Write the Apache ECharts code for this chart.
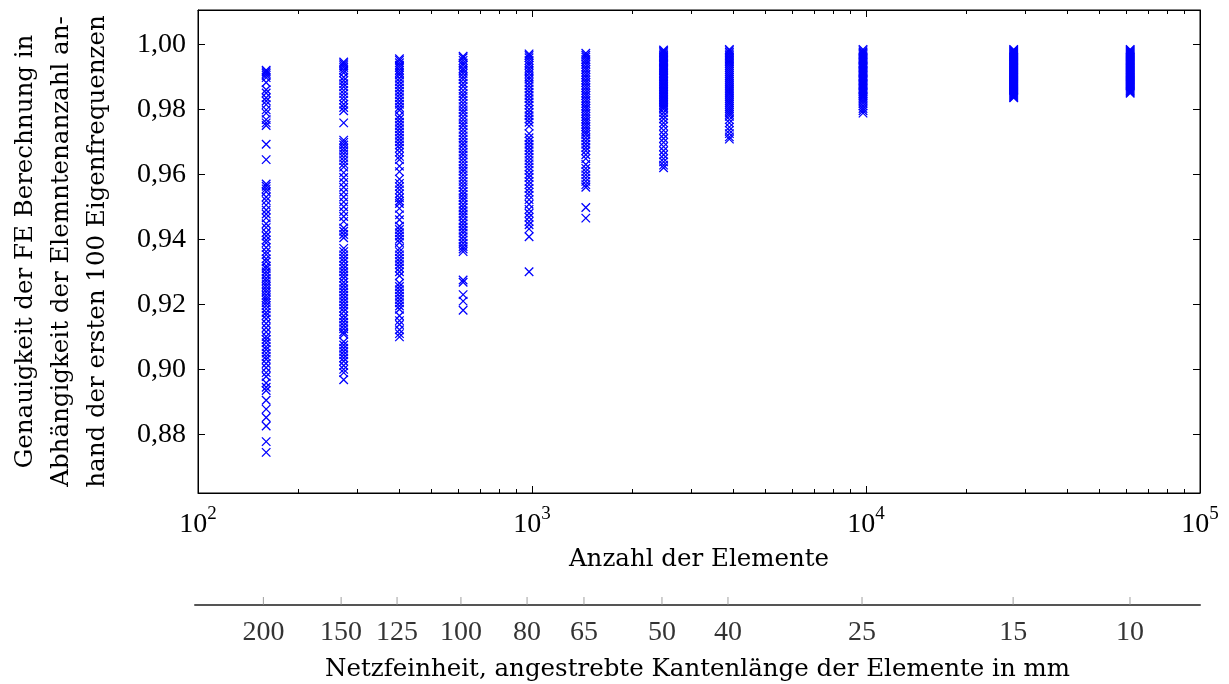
<!DOCTYPE html>
<html>
<head>
<meta charset="utf-8">
<script src="https://cdn.jsdelivr.net/npm/echarts@6/dist/echarts.min.js"></script>
<style>html,body{margin:0;padding:0;background:#fff}#c{width:1229px;height:684px}</style>
</head>
<body>
<div id="c"></div>
<script>
// Element counts (x positions of the columns)
const elementCounts = [160, 273, 401, 622, 980, 1449, 2477, 3899, 9797, 27680, 61800];
// Target edge length (mm) for each mesh
const meshSizes = ['200', '150', '125', '100', '80', '65', '50', '40', '25', '15', '10'];
// Accuracy values per mesh (first 100 eigenfrequencies, estimated)
const acc160 = [0.9920,0.9915,0.9910,0.9904,0.9897,0.9882,0.9860,0.9850,0.9835,0.9825,0.9814,0.9798,0.9788,0.9768,0.9758,0.9750,
  0.9692,0.9645,
  0.9570,0.9563,0.9555,0.9546,0.9530,0.9519,0.9505,0.9490,0.9478,0.9466,0.9448,0.9436,0.9421,0.9410,0.9398,0.9389,0.9375,0.9362,0.9353,0.9340,0.9331,0.9318,0.9310,0.9300,0.9291,0.9280,0.9272,0.9263,0.9255,0.9246,0.9238,0.9228,0.9220,0.9213,0.9205,0.9196,0.9186,0.9175,0.9166,0.9155,0.9141,0.9128,0.9115,0.9101,0.9092,0.9082,0.9070,0.9061,0.9050,0.9040,0.9031,0.9018,0.9005,0.8990,0.8978,0.8958,0.8945,0.8935,
  0.8905,0.8878,0.8852,0.8826,0.8778,0.8745];
const acc273 = [0.9945,0.9940,0.9934,0.9928,0.9920,0.9912,0.9898,0.9888,0.9878,0.9869,0.9858,0.9848,0.9838,0.9828,0.9815,0.9805,0.9795,
  0.9758,
  0.9705,0.9698,0.9690,0.9680,0.9671,0.9662,0.9652,0.9642,0.9632,0.9622,
  0.9605,0.9590,0.9575,0.9560,0.9545,0.9530,0.9515,0.9500,0.9485,0.9470,0.9455,
  0.9435,0.9425,0.9415,0.9405,
  0.9372,0.9362,0.9352,0.9342,0.9332,0.9320,0.9310,0.9300,0.9290,0.9280,0.9268,0.9258,0.9248,0.9238,0.9228,0.9218,0.9208,0.9198,0.9188,0.9178,0.9165,0.9155,0.9145,0.9135,0.9125,0.9115,0.9108,
  0.9085,0.9075,0.9065,0.9055,0.9045,0.9035,0.9025,0.9012,0.9000,0.8990,0.8968];
const acc401 = [0.9955,0.9950,0.9943,0.9935,0.9928,0.9920,0.9912,0.9905,0.9895,0.9885,0.9875,0.9865,0.9855,0.9845,0.9835,0.9825,0.9815,0.9805,0.9797,
  0.9780,0.9770,0.9760,0.9750,0.9740,0.9730,0.9720,0.9710,0.9700,0.9690,0.9680,0.9668,0.9655,0.9645,
  0.9625,0.9608,
  0.9585,0.9572,0.9562,0.9552,0.9540,0.9528,0.9518,0.9510,
  0.9495,0.9475,0.9460,
  0.9440,0.9430,0.9420,0.9410,0.9400,0.9390,
  0.9372,0.9362,0.9352,0.9342,0.9332,0.9322,0.9312,0.9300,0.9288,
  0.9265,0.9255,0.9245,0.9235,0.9225,0.9215,0.9205,0.9195,0.9185,
  0.9165,0.9150,0.9138,0.9122,0.9110,0.9100];
const acc622 = [0.9963,0.9958,0.9950,0.9942,0.9935,0.9925,0.9918,0.9910,0.9900,0.9891,0.9880,0.9870,0.9858,0.9848,0.9839,0.9828,0.9818,0.9808,0.9798,0.9789,0.9778,0.9768,0.9758,0.9749,0.9738,0.9728,0.9718,0.9708,0.9698,0.9689,0.9678,0.9668,0.9659,0.9648,0.9638,0.9628,0.9618,0.9609,0.9598,0.9588,0.9578,0.9568,0.9559,0.9548,0.9538,0.9528,0.9519,0.9508,0.9498,0.9488,0.9478,0.9469,0.9458,0.9448,0.9438,0.9428,0.9419,0.9408,0.9398,0.9388,0.9378,0.9370,0.9362,
  0.9275,0.9268,0.9230,0.9210,0.9182];
const acc980 = [0.9970,0.9965,0.9958,0.9950,0.9942,0.9935,0.9926,0.9918,0.9910,0.9900,0.9892,0.9882,0.9872,0.9862,0.9852,0.9842,0.9832,0.9822,0.9812,0.9800,0.9790,0.9780,0.9770,0.9760,0.9748,
  0.9725,0.9712,0.9702,0.9692,0.9682,0.9672,0.9662,0.9652,0.9642,0.9632,0.9622,0.9612,0.9600,0.9590,0.9578,0.9568,0.9556,0.9545,0.9535,0.9522,
  0.9508,0.9492,0.9480,0.9468,0.9455,0.9445,0.9432,0.9408,0.9300];
const acc1449 = [0.9972,0.9966,0.9960,0.9953,0.9946,0.9938,0.9930,0.9922,0.9914,0.9906,0.9898,0.9890,0.9882,0.9874,0.9866,0.9858,0.9850,0.9842,0.9834,0.9826,0.9818,0.9810,0.9802,0.9794,0.9786,0.9778,0.9770,0.9762,0.9754,0.9746,0.9738,0.9730,0.9722,0.9712,0.9702,0.9692,0.9682,0.9672,0.9660,0.9648,
  0.9630,0.9618,0.9608,0.9598,0.9588,0.9578,0.9568,0.9560,
  0.9498,0.9465];
const acc2477 = [0.9982,0.9978,0.9974,0.9970,0.9966,0.9962,0.9958,0.9954,0.9950,0.9946,0.9942,0.9938,0.9934,0.9930,0.9926,0.9922,0.9918,0.9914,0.9910,0.9905,0.9900,0.9895,0.9890,0.9885,0.9880,0.9875,0.9870,0.9865,0.9860,0.9855,0.9850,0.9845,0.9840,0.9835,0.9830,0.9825,0.9820,0.9815,0.9810,0.9805,0.9800,
  0.9790,0.9780,0.9770,0.9758,0.9748,0.9735,0.9722,0.9710,0.9698,0.9685,0.9672,0.9660,0.9648,0.9638,0.9628,0.9620];
const acc3899 = [0.9984,0.9980,0.9975,0.9970,0.9965,0.9960,0.9955,0.9950,0.9945,0.9940,0.9934,0.9928,0.9922,0.9916,0.9910,0.9904,0.9898,0.9892,0.9886,0.9880,0.9874,0.9868,0.9862,0.9856,0.9850,0.9844,0.9838,0.9832,0.9826,0.9820,0.9814,0.9808,0.9802,0.9796,0.9790,0.9784,0.9778,
  0.9768,0.9758,0.9745,0.9735,0.9725,0.9715,0.9708];
const acc9797 = [0.9984,0.9980,0.9976,0.9972,0.9968,0.9964,0.9960,0.9956,0.9952,0.9948,0.9944,0.9940,0.9936,0.9932,0.9928,0.9924,0.9920,0.9916,0.9912,0.9908,0.9904,0.9900,0.9896,0.9892,0.9888,0.9884,0.9880,0.9876,0.9872,0.9868,0.9864,0.9860,0.9856,0.9852,0.9848,0.9844,0.9840,0.9836,0.9830,0.9824,
  0.9818,0.9810,0.9802,0.9795,0.9788];
const acc27680 = [0.9984,0.9981,0.9978,0.9975,0.9972,0.9969,0.9966,0.9963,0.9960,0.9957,0.9954,0.9951,0.9948,0.9945,0.9942,0.9939,0.9936,0.9933,0.9930,0.9927,0.9924,0.9921,0.9918,0.9915,0.9912,0.9909,0.9906,0.9903,0.9900,0.9897,0.9894,0.9891,0.9888,0.9885,0.9882,0.9879,0.9876,0.9873,0.9870,0.9867,0.9864,0.9861,0.9858,0.9855,0.9852,0.9849,0.9846,0.9843,0.9840,0.9837,0.9835];
const acc61800 = [0.9984,0.9981,0.9978,0.9975,0.9972,0.9969,0.9966,0.9963,0.9960,0.9957,0.9954,0.9951,0.9948,0.9945,0.9942,0.9939,0.9936,0.9933,0.9930,0.9927,0.9924,0.9921,0.9918,0.9915,0.9912,0.9909,0.9906,0.9903,0.9900,0.9897,0.9894,0.9891,0.9888,0.9885,0.9882,0.9879,0.9876,0.9873,0.9870,0.9867,0.9864,0.9861,0.9858,0.9855,0.9852,0.9849];
const accuracyColumns = [acc160, acc273, acc401, acc622, acc980, acc1449, acc2477, acc3899, acc9797, acc27680, acc61800];
const yTicks = [0.88, 0.90, 0.92, 0.94, 0.96, 0.98, 1.00];
const xMinorTicks = [200,300,400,500,600,700,800,900,2000,3000,4000,5000,6000,7000,8000,9000,20000,30000,40000,50000,60000,70000,80000,90000];

const points = [];
accuracyColumns.forEach((col, i) => col.forEach(v => points.push([elementCounts[i], v])));
const meshTicks = elementCounts.map((n, i) => [n, 0.5, meshSizes[i]]);

const FONT = 'Liberation Serif';
const NFONT = 'DejaVu Serif';
const FS = 28;
const NFS = 24.5;

const chart = echarts.init(document.getElementById('c'), null, {renderer: 'canvas'});
const baseLog = {type: 'log', logBase: 10, min: 100, max: 100000, splitLine: {show: false}, minorTick: {show: false}};
chart.setOption({
  animation: false,
  backgroundColor: '#fff',
  textStyle: {fontFamily: FONT, color: '#000'},
  grid: [
    {left: 195, right: 29, top: 10, bottom: 191, show: true, borderColor: '#000', borderWidth: 1, backgroundColor: 'transparent'},
    {left: 195, right: 29, top: 597, height: 8, show: false}
  ],
  xAxis: [
    Object.assign({}, baseLog, {
      gridIndex: 0, position: 'bottom',
      axisLine: {show: true, lineStyle: {color: '#000', width: 1}},
      axisTick: {show: true, inside: true, length: 7, lineStyle: {color: '#000'}},
      axisLabel: {
        margin: 12, color: '#000',
        formatter: v => '{b|10}{s|' + Math.round(Math.log10(v)) + '}',
        rich: {
          b: {fontFamily: FONT, fontSize: FS, lineHeight: 34, verticalAlign: 'bottom'},
          s: {fontFamily: FONT, fontSize: 19, lineHeight: 34, verticalAlign: 'top'}
        }
      },
      name: 'Anzahl der Elemente', nameLocation: 'middle', nameGap: 54,
      nameTextStyle: {fontFamily: NFONT, fontSize: NFS, color: '#000'}
    }),
    Object.assign({}, baseLog, {
      gridIndex: 0, position: 'bottom',
      axisLine: {show: false},
      axisTick: {show: true, inside: true, length: 4, customValues: xMinorTicks, lineStyle: {color: '#000'}},
      axisLabel: {show: false}
    }),
    Object.assign({}, baseLog, {
      gridIndex: 0, position: 'top',
      axisLine: {show: true, lineStyle: {color: '#000'}},
      axisTick: {show: true, inside: true, length: 7, lineStyle: {color: '#000'}},
      axisLabel: {show: false}
    }),
    Object.assign({}, baseLog, {
      gridIndex: 0, position: 'top',
      axisLine: {show: false},
      axisTick: {show: true, inside: true, length: 4, customValues: xMinorTicks, lineStyle: {color: '#000'}},
      axisLabel: {show: false}
    }),
    Object.assign({}, baseLog, {
      gridIndex: 1, position: 'bottom',
      axisLine: {show: true, lineStyle: {color: '#555', width: 2}},
      axisTick: {show: false},
      axisLabel: {show: false},
      name: 'Netzfeinheit, angestrebte Kantenlänge der Elemente in mm', nameLocation: 'middle', nameGap: 52,
      nameTextStyle: {fontFamily: NFONT, fontSize: NFS, color: '#000'}
    })
  ],
  yAxis: [
    {
      type: 'value', gridIndex: 0, min: 0.862, max: 1.0105, position: 'left',
      splitLine: {show: false},
      axisLine: {show: true, lineStyle: {color: '#000'}},
      axisTick: {show: true, inside: true, length: 7, customValues: yTicks, lineStyle: {color: '#000'}},
      axisLabel: {customValues: yTicks, margin: 12, color: '#000', fontFamily: FONT, fontSize: FS,
        formatter: v => v.toFixed(2).replace('.', ',')},
      name: 'Genauigkeit der FE Berechnung in\nAbhängigkeit der Elemntenanzahl an-\nhand der ersten 100 Eigenfrequenzen',
      nameLocation: 'middle', nameGap: 82,
      nameTextStyle: {fontFamily: NFONT, fontSize: NFS, lineHeight: 36, color: '#000', align: 'center'}
    },
    {
      type: 'value', gridIndex: 0, min: 0.862, max: 1.0105, position: 'right',
      splitLine: {show: false},
      axisLine: {show: true, lineStyle: {color: '#000'}},
      axisTick: {show: true, inside: true, length: 7, customValues: yTicks, lineStyle: {color: '#000'}},
      axisLabel: {show: false}
    },
    {type: 'value', gridIndex: 1, min: 0, max: 1, show: false}
  ],
  series: [
    {
      type: 'scatter', xAxisIndex: 0, yAxisIndex: 0, data: points,
      symbol: 'path://M0 0L10 10M10 0L0 10', symbolSize: 8.5,
      itemStyle: {color: '#0000ff', borderColor: '#0000ff', borderWidth: 1.3, opacity: 1},
      emphasis: {disabled: true}, silent: true, large: false, progressive: 0
    },
    {
      type: 'scatter', xAxisIndex: 4, yAxisIndex: 2, data: meshTicks,
      symbol: 'rect', symbolSize: [1, 8],
      itemStyle: {color: '#888'},
      label: {show: true, position: 'bottom', distance: 14, formatter: p => p.data[2],
        fontFamily: FONT, fontSize: FS, color: '#000'},
      emphasis: {disabled: true}, silent: true
    }
  ]
});
</script>
</body>
</html>
